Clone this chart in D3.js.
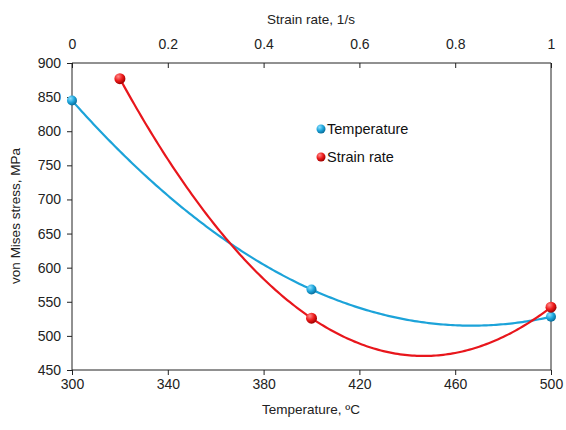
<!DOCTYPE html>
<html><head><meta charset="utf-8">
<script src="https://cdn.jsdelivr.net/npm/d3@7"></script>
<style>body{margin:0;background:#fff}svg{font-family:"Liberation Sans",Arial,sans-serif}</style>
</head><body>
<svg id="c" width="566" height="430"></svg>
<script>
// Data
const tempX = [300, 400, 500];
const tempY = [845, 568, 528];
const rateX = [0.1, 0.5, 1.0];
const rateY = [877, 526, 542];
const yTicks = [450, 500, 550, 600, 650, 700, 750, 800, 850, 900];
const tempTicks = [300, 340, 380, 420, 460, 500];
const rateTicks = [0, 0.2, 0.4, 0.6, 0.8, 1];
const seriesNames = ["Temperature", "Strain rate"];

(function () {
const svg = d3.select("#c");
const L = 72, R = 551, T = 63, B = 370;
const xT = d3.scaleLinear().domain([300, 500]).range([L, R]);
const xR = d3.scaleLinear().domain([0, 1]).range([L, R]);
const y = d3.scaleLinear().domain([450, 900]).range([B, T]);

const defs = svg.append("defs");
function grad(id, light, mid, dark) {
  const g = defs.append("radialGradient").attr("id", id).attr("cx", "35%").attr("cy", "30%").attr("r", "70%");
  g.append("stop").attr("offset", "0%").attr("stop-color", light);
  g.append("stop").attr("offset", "55%").attr("stop-color", mid);
  g.append("stop").attr("offset", "100%").attr("stop-color", dark);
}
grad("gb", "#8fe0ff", "#1ea6dc", "#0a6f9c");
grad("gr", "#ff8a8a", "#ee1c1c", "#a00000");

// quadratic trendline (least squares) from data
function quadFit(xs, ys) {
  const n = xs.length;
  let S = [0,0,0,0,0], Sy = [0,0,0];
  for (let i = 0; i < n; i++) {
    for (let k = 0; k < 5; k++) S[k] += Math.pow(xs[i], k);
    for (let k = 0; k < 3; k++) Sy[k] += ys[i] * Math.pow(xs[i], k);
  }
  const M = [[S[0],S[1],S[2],Sy[0]],[S[1],S[2],S[3],Sy[1]],[S[2],S[3],S[4],Sy[2]]];
  for (let i = 0; i < 3; i++) {
    let p = i; for (let r = i+1; r < 3; r++) if (Math.abs(M[r][i]) > Math.abs(M[p][i])) p = r;
    [M[i], M[p]] = [M[p], M[i]];
    for (let r = 0; r < 3; r++) if (r !== i) {
      const f = M[r][i] / M[i][i];
      for (let c = i; c < 4; c++) M[r][c] -= f * M[i][c];
    }
  }
  const c = [M[0][3]/M[0][0], M[1][3]/M[1][1], M[2][3]/M[2][2]];
  return x => c[0] + c[1]*x + c[2]*x*x;
}

const fT = quadFit(tempX, tempY);
const fR = quadFit(rateX, rateY);
const line = d3.line();

const tPts = d3.range(0, 201).map(i => { const v = 300 + i; return [xT(v), y(fT(v))]; });
const rPts = d3.range(0, 181).map(i => { const v = 0.1 + i * 0.005; return [xR(v), y(fR(v))]; });

svg.append("path").attr("d", line(tPts)).attr("fill", "none").attr("stroke", "#1ca3d9").attr("stroke-width", 2.2);
svg.append("path").attr("d", line(rPts)).attr("fill", "none").attr("stroke", "#e8161c").attr("stroke-width", 2.2);

const gLeft = svg.append("g").attr("transform", `translate(${L},0)`).call(d3.axisLeft(y).tickValues(yTicks).tickSize(5).tickPadding(6));
const gBottom = svg.append("g").attr("transform", `translate(0,${B})`).call(d3.axisBottom(xT).tickValues(tempTicks).tickSize(5).tickPadding(4));
const gTop = svg.append("g").attr("transform", `translate(0,${T})`).call(d3.axisTop(xR).tickValues(rateTicks).tickSize(-5).tickPadding(14).tickFormat(d3.format("~g")));
[gLeft, gBottom, gTop].forEach(g => {
  g.selectAll("text").attr("font-size", 14).attr("fill", "#222").style("font-family", "'Liberation Sans', Arial, sans-serif");
  g.selectAll("line,path").attr("stroke", "#222");
});
gLeft.select(".domain").attr("d", `M0,${T}V${B}`);
gBottom.select(".domain").attr("d", `M${L},0H${R}`);
gTop.select(".domain").attr("d", `M${L},0H${R}`);
svg.append("line").attr("x1", R).attr("x2", R).attr("y1", T).attr("y2", B).attr("stroke", "#222");

svg.selectAll(".pt").data(tempX.map((d, i) => [d, tempY[i]])).join("circle")
  .attr("cx", d => xT(d[0])).attr("cy", d => y(d[1])).attr("r", 5).attr("fill", "url(#gb)");
svg.selectAll(".pr").data(rateX.map((d, i) => [d, rateY[i]])).join("circle")
  .attr("cx", d => xR(d[0])).attr("cy", d => y(d[1])).attr("r", 5.5).attr("fill", "url(#gr)");

svg.append("text").attr("x", 311).attr("y", 24).attr("text-anchor", "middle").attr("font-size", 13.5).attr("fill", "#222").text("Strain rate, 1/s");
svg.append("text").attr("x", 311).attr("y", 414).attr("text-anchor", "middle").attr("font-size", 13.5).attr("fill", "#222").text("Temperature, ºC");
svg.append("text").attr("transform", "translate(20,216) rotate(-90)").attr("text-anchor", "middle").attr("font-size", 13.5).attr("fill", "#222").text("von Mises stress, MPa");

const lg = svg.append("g");
seriesNames.forEach((n, i) => {
  const yy = 129 + i * 28;
  lg.append("circle").attr("cx", 321).attr("cy", yy).attr("r", 4.5).attr("fill", i ? "url(#gr)" : "url(#gb)");
  lg.append("text").attr("x", 327).attr("y", yy + 5).attr("font-size", 14.5).attr("fill", "#111").text(n);
});
})();
</script>
</body></html>
